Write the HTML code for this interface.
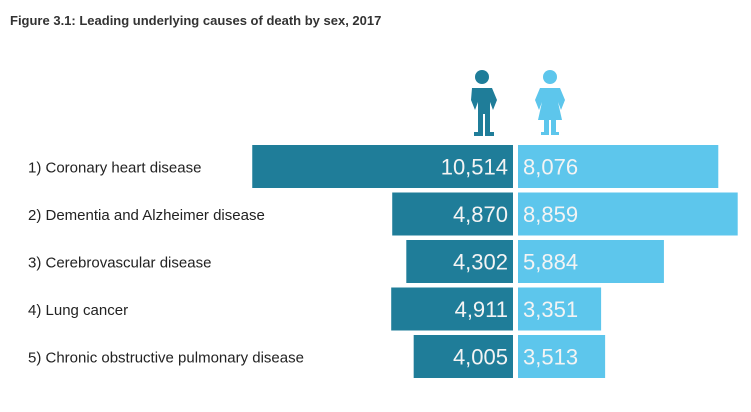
<!DOCTYPE html>
<html><head><meta charset="utf-8"><style>
body{margin:0;background:#fff;font-family:"Liberation Sans",sans-serif;}
#c{position:relative;width:751px;height:412px;overflow:hidden;}
</style></head><body>
<div id="c">
<svg width="751" height="412">
<text x="10" y="25" font-size="13" font-weight="bold" fill="#333">Figure 3.1: Leading underlying causes of death by sex, 2017</text>
<g fill="#1f7d99">
<circle cx="482" cy="77" r="7"/>
<path d="M472 88 h20 l5 12 l-4 10 l-3 -8 v30 h4 v4 h-9 v-22 h-2 v22 h-9 v-4 h4 v-30 l-3 8 l-4 -10 z"/>
</g>
<g fill="#5dc6ec">
<circle cx="550" cy="77" r="7"/>
<path d="M540 88 h20 l5 12 l-4 10 l-3 -8 l4 18 h-6 v12 h3 v3 h-8 v-15 h-2 v15 h-8 v-3 h3 v-12 h-6 l4 -18 l-3 8 l-4 -10 z"/>
</g>
<g id="bars"></g>
</svg>
</div>
<script>
const categories=["1) Coronary heart disease","2) Dementia and Alzheimer disease","3) Cerebrovascular disease","4) Lung cancer","5) Chronic obstructive pulmonary disease"];
const maleValues=[10514,4870,4302,4911,4005];
const femaleValues=[8076,8859,5884,3351,3513];
const maleLabels=["10,514","4,870","4,302","4,911","4,005"];
const femaleLabels=["8,076","8,859","5,884","3,351","3,513"];
const NS="http://www.w3.org/2000/svg";
const g=document.getElementById('bars');
const xScale=v=>v*0.0248;
const yTop=i=>145+i*47.5;
const H=43;
function mk(t,a){const e=document.createElementNS(NS,t);for(const k in a)e.setAttribute(k,a[k]);return e;}
categories.forEach((c,i)=>{
  const y=yTop(i);
  const lab=mk('text',{x:28,y:y+H/2+6,'font-size':15,fill:'#222'});
  lab.textContent=c;
  
  
  g.appendChild(lab);
  const mw=xScale(maleValues[i]);
  const mb=mk('rect',{x:513-mw,y:y,width:mw,height:H,fill:'#1f7d99'});
  
  
  g.appendChild(mb);
  const fw=xScale(femaleValues[i]);
  const fb=mk('rect',{x:518,y:y,width:fw,height:H,fill:'#5dc6ec'});
  
  
  g.appendChild(fb);
  const mt=mk('text',{x:508,y:y+H/2+8,'font-size':22,fill:'#f4f4f4','text-anchor':'end'});
  mt.textContent=maleLabels[i];
  
  
  g.appendChild(mt);
  const ft=mk('text',{x:523,y:y+H/2+8,'font-size':22,fill:'#f4f4f4'});
  ft.textContent=femaleLabels[i];
  
  
  g.appendChild(ft);
});
</script>
</body></html>
